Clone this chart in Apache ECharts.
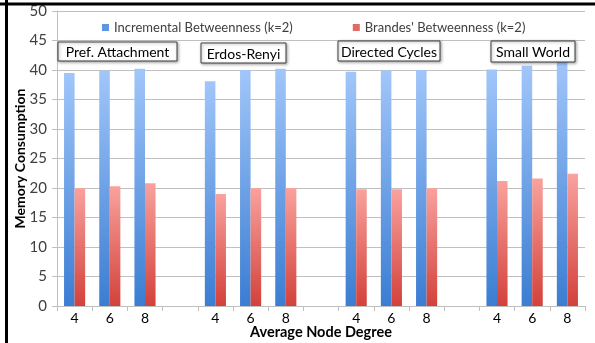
<!DOCTYPE html>
<html>
<head>
<meta charset="utf-8">
<script src="https://cdn.jsdelivr.net/npm/echarts@6/dist/echarts.min.js"></script>
<style>
  html, body { margin: 0; padding: 0; background: #fff; }
  #chart { width: 595px; height: 343px; }
</style>
</head>
<body>
<div id="chart"></div>
<script>
// x categories: three degrees per graph family, blank slot between families
const categories = ['4', '6', '8', '', '4', '6', '8', '', '4', '6', '8', '', '4', '6', '8'];
const incremental = [39.5, 39.9, 40.2, null, 38.1, 40.0, 40.2, null, 39.7, 39.9, 40.0, null, 40.1, 40.7, 41.7];
const brandes = [20.0, 20.3, 20.8, null, 19.0, 20.0, 20.0, null, 19.8, 19.8, 20.0, null, 21.2, 21.6, 22.4];
const groupNames = ['Pref. Attachment', 'Erdos-Renyi', 'Directed Cycles', 'Small World'];
const yTicks = [0, 5, 10, 15, 20, 25, 30, 35, 40, 45, 50];

const FONT = 'Lato';
const chart = echarts.init(document.getElementById('chart'), null, { renderer: 'canvas' });

function grad(top, bottom) {
    return new echarts.graphic.LinearGradient(0, 0, 0, 1, [
        { offset: 0, color: top },
        { offset: 1, color: bottom }
    ]);
}

// label boxes over each group
const boxes = [
    { x: 58, y: 42, w: 119, h: 19 },
    { x: 201, y: 43, w: 85, h: 20 },
    { x: 338, y: 41, w: 102, h: 20 },
    { x: 491, y: 41, w: 84, h: 21 }
];
const boxGraphics = [];
groupNames.forEach((name, i) => {
    const b = boxes[i];
    boxGraphics.push({
        type: 'rect',
        shape: { x: b.x, y: b.y, width: b.w, height: b.h },
        style: {
            fill: '#fff', stroke: '#404040', lineWidth: 1,
            shadowBlur: 3, shadowOffsetX: 1, shadowOffsetY: 1, shadowColor: 'rgba(0,0,0,0.35)'
        },
        z: 10
    });
    boxGraphics.push({
        type: 'text',
        x: b.x + b.w / 2,
        y: b.y + b.h / 2 + 1,
        style: {
            text: name, fill: '#000', font: '14px ' + FONT,
            textAlign: 'center', textVerticalAlign: 'middle'
        },
        z: 11
    });
});

chart.setOption({
    animation: false,
    backgroundColor: '#fff',
    textStyle: { fontFamily: FONT },
    grid: { left: 57, right: 10, top: 11, bottom: 37, containLabel: false, outerBoundsMode: 'none' },
    legend: {
        left: 97, top: 16,
        itemWidth: 7, itemHeight: 7, itemGap: 60,
        icon: 'rect',
        textStyle: { fontSize: 13, color: '#404040', fontFamily: FONT },
        data: [
            { name: 'Incremental Betweenness (k=2)', itemStyle: { color: '#5e96e2' } },
            { name: "Brandes' Betweenness (k=2)", itemStyle: { color: '#e06a66' } }
        ]
    },
    xAxis: {
        type: 'category',
        data: categories,
        name: 'Average Node Degree',
        nameLocation: 'middle',
        nameGap: 19,
        nameMoveOverlap: false,
        nameTextStyle: { fontSize: 14.5, fontWeight: 'bold', color: '#000', fontFamily: FONT },
        axisLine: { lineStyle: { color: '#bfbfbf' } },
        axisTick: { show: true, interval: 0, length: 5, lineStyle: { color: '#bfbfbf' } },
        axisLabel: { interval: 0, margin: 5, fontSize: 14, color: '#000', fontFamily: FONT }
    },
    yAxis: {
        type: 'value',
        min: yTicks[0],
        max: yTicks[yTicks.length - 1],
        interval: 5,
        name: 'Memory Consumption',
        nameLocation: 'middle',
        nameGap: 30,
        nameMoveOverlap: false,
        nameTextStyle: { fontSize: 14, fontWeight: 'bold', color: '#000', fontFamily: FONT },
        axisLine: { show: true, lineStyle: { color: '#bfbfbf' } },
        axisTick: { show: true, length: 5, lineStyle: { color: '#bfbfbf' } },
        axisLabel: { margin: 10, fontSize: 15, color: '#404040', fontFamily: FONT },
        splitLine: { lineStyle: { color: '#c0c0c0' } }
    },
    series: [
        {
            name: 'Incremental Betweenness (k=2)',
            type: 'bar',
            data: incremental,
            barWidth: '30%',
            barGap: '0%',
            itemStyle: { color: grad('#a1c6fa', '#3b7dd2') }
        },
        {
            name: "Brandes' Betweenness (k=2)",
            type: 'bar',
            data: brandes,
            barWidth: '30%',
            barGap: '0%',
            itemStyle: { color: grad('#f9a29e', '#d3413a') }
        }
    ],
    graphic: [
        { type: 'line', shape: { x1: 0, y1: 4, x2: 595, y2: 4 }, style: { stroke: '#000', lineWidth: 3 }, z: 20 },
        { type: 'line', shape: { x1: 6.5, y1: 0, x2: 6.5, y2: 343 }, style: { stroke: '#000', lineWidth: 3 }, z: 20 }
    ].concat(boxGraphics)
});
</script>
</body>
</html>
